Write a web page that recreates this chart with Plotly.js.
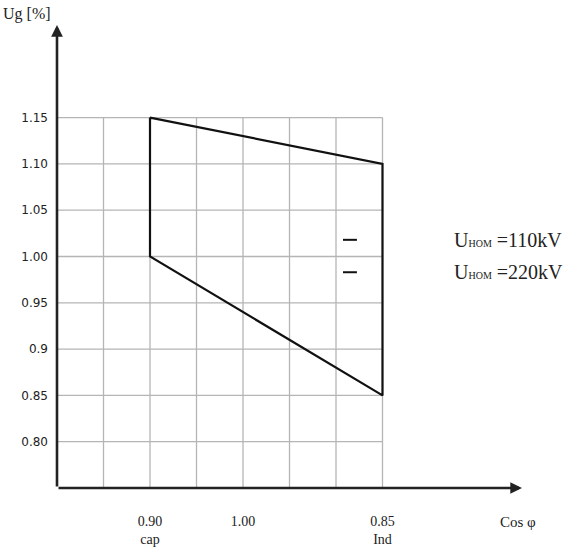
<!DOCTYPE html>
<html>
<head>
<meta charset="utf-8">
<script src="https://cdn.plot.ly/plotly-3.0.1.min.js"></script>
<style>html,body{margin:0;padding:0;background:#fff;}#chart{width:573px;height:552px;}</style>
</head>
<body>
<div id="chart"></div>
<script>
// Region outline (x positions on the cos φ scale grid, Ug values)
const regionX = [2, 7, 7, 2, 2];
const regionUg = [1.15, 1.10, 0.85, 1.00, 1.15];

// Tick labels
const xTickVals = [2, 4, 7];
const xTickText = ['0.90<br>cap', '1.00', '0.85<br>Ind'];
const yTickVals = [0.80, 0.85, 0.90, 0.95, 1.00, 1.05, 1.10, 1.15];
const yTickText = ['0.80', '0.85', '0.9', '0.95', '1.00', '1.05', '1.10', '1.15'];

// Grid extents
const gridX = [1, 2, 3, 4, 5, 6, 7];
const gridY = [0.80, 0.85, 0.90, 0.95, 1.00, 1.05, 1.10, 1.15];

// Legend entries
const legendLabels = ['U<span style="font-size:10px">НОМ</span> =110kV', 'U<span style="font-size:10px">НОМ</span> =220kV'];
const legendY = [1.018, 0.983];

const xMin = 0, xMax = 10, yMin = 0.75, yMax = 1.25;
const gridColor = '#b5b5b5';

const shapes = [];
gridX.forEach(x => shapes.push({type:'line', xref:'x', yref:'y', x0:x, x1:x, y0:yMin, y1:gridY[gridY.length-1], line:{color:gridColor, width:1.3}, layer:'below'}));
gridY.forEach(y => shapes.push({type:'line', xref:'x', yref:'y', x0:xMin, x1:gridX[gridX.length-1], y0:y, y1:y, line:{color:gridColor, width:1.3}, layer:'below'}));
legendY.forEach(y => shapes.push({type:'line', xref:'x', yref:'y', x0:6.15, x1:6.45, y0:y, y1:y, line:{color:'#111', width:2}}));

const annotations = [
  {x:xMin, y:yMax, xref:'x', yref:'y', ax:0, ay:463, showarrow:true, arrowhead:2, arrowsize:0.9, arrowwidth:2.6, arrowcolor:'#222', text:''},
  {x:xMax, y:yMin, xref:'x', yref:'y', ax:-465, ay:0, showarrow:true, arrowhead:2, arrowsize:0.9, arrowwidth:2.6, arrowcolor:'#222', text:''},
  {x:-0.0645, y:1.0238, xref:'paper', yref:'paper', xanchor:'center', yanchor:'middle', showarrow:false, text:'Ug [%]', font:{family:'Liberation Serif, Times New Roman, serif', size:16, color:'#222'}},
  {x:0.991, y:-0.0734, xref:'paper', yref:'paper', xanchor:'center', yanchor:'middle', showarrow:false, text:'Cos φ', font:{family:'Liberation Serif, Times New Roman, serif', size:15, color:'#222'}}
];
legendLabels.forEach((t, i) => annotations.push({x:0.849, y:(legendY[i]-yMin)/(yMax-yMin), xref:'paper', yref:'paper', xanchor:'left', yanchor:'middle', showarrow:false, text:t, font:{family:'Liberation Serif, Times New Roman, serif', size:20, color:'#222'}}));

const data = [{
  type:'scatter', mode:'lines', x:regionX, y:regionUg,
  line:{color:'#111', width:2.2}, hoverinfo:'skip', showlegend:false, cliponaxis:false
}];

const layout = {
  width:573, height:552,
  margin:{l:57, r:51, t:25, b:64},
  paper_bgcolor:'#fff', plot_bgcolor:'#fff',
  showlegend:false,
  xaxis:{range:[xMin, xMax], showgrid:false, zeroline:false, showline:false,
    tickmode:'array', tickvals:xTickVals, ticktext:xTickText, ticks:'',
    ticklabelstandoff:23,
    tickfont:{family:'Liberation Serif, Times New Roman, serif', size:14, color:'#222'}},
  yaxis:{range:[yMin, yMax], showgrid:false, zeroline:false, showline:false,
    tickmode:'array', tickvals:yTickVals, ticktext:yTickText, ticks:'',
    ticklabelstandoff:8,
    tickfont:{family:'DejaVu Sans, Verdana, sans-serif', size:12, color:'#222'}},
  shapes:shapes,
  annotations:annotations
};

Plotly.newPlot('chart', data, layout, {staticPlot:true, displayModeBar:false});
</script>
</body>
</html>
